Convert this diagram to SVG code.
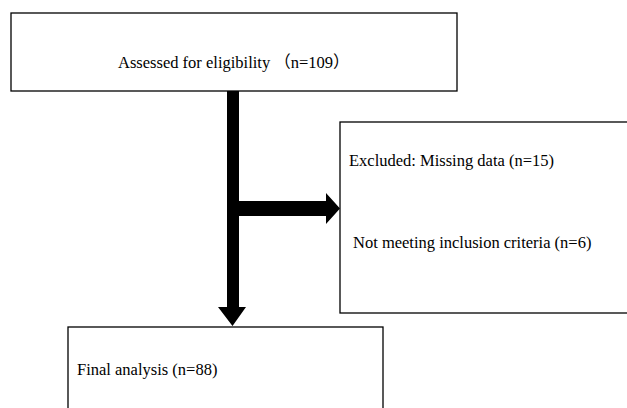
<svg xmlns="http://www.w3.org/2000/svg" width="627" height="408" viewBox="0 0 627 408">
<style>
.box{fill:#fff;stroke:#000;stroke-width:1.3}
.t{font-family:"Liberation Serif","Noto Sans CJK SC",serif;font-size:16.5px;fill:#000}
.arr{fill:#000;stroke:none}
</style>
<rect width="627" height="408" fill="#fff"/>
<g id="node-assessed">
<rect class="box" x="11" y="13" width="446" height="78"/>
<text class="t" x="118" y="68">Assessed for eligibility （n=109）</text>
</g>
<g id="node-excluded">
<rect class="box" x="340" y="122" width="300" height="191"/>
<text class="t" x="349" y="166">Excluded: Missing data (n=15)</text>
<text class="t" x="353" y="248">Not meeting inclusion criteria (n=6)</text>
</g>
<g id="node-final">
<rect class="box" x="68" y="327" width="315" height="100"/>
<text class="t" x="77" y="375">Final analysis (n=88)</text>
</g>
<g id="connectors">
<polygon class="arr" points="227,91 239,91 239,307 246,307 232.5,326 218,307 227,307"/>
<polygon class="arr" points="239,201 326,201 326,193 340,208.5 326,224 326,216 239,216"/>
</g>
</svg>
